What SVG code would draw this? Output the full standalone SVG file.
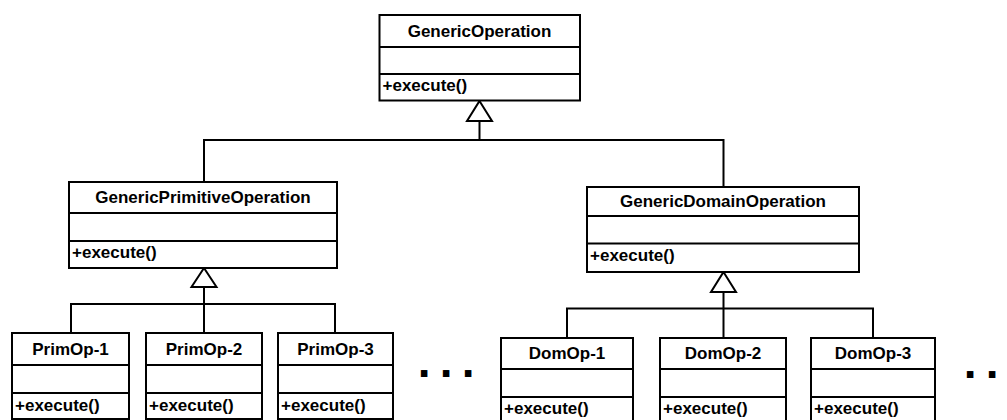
<svg xmlns="http://www.w3.org/2000/svg" width="1007" height="420" viewBox="0 0 1007 420">
<style>
.box{fill:#fff;stroke:#000;stroke-width:2}
.div{stroke:#000;stroke-width:2}
.name{font-family:"Liberation Sans",Arial,sans-serif;font-weight:bold;font-size:17px;text-anchor:middle;fill:#000}
.op{font-family:"Liberation Sans",Arial,sans-serif;font-weight:bold;font-size:17px;fill:#000}
.ln{fill:none;stroke:#000;stroke-width:2}
.tri{fill:#fff;stroke:#000;stroke-width:2;stroke-linejoin:miter}
.dots{font-family:"Liberation Sans",Arial,sans-serif;font-weight:bold;font-size:46px;letter-spacing:9.2px;fill:#000}
</style>
<rect width="1007" height="420" fill="#fff"/>
<g id="connectors">
<polyline class="ln" points="479.5,121 479.5,140"/>
<polyline class="ln" points="204,182 204,140 723.5,140 723.5,187"/>
<polyline class="ln" points="204,287 204,333"/>
<polyline class="ln" points="71,333 71,304 335,304 335,333"/>
<polyline class="ln" points="723.5,292 723.5,338"/>
<polyline class="ln" points="567,338 567,308.5 873,308.5 873,338"/>
<polygon class="tri" points="479.5,101 492,121 467,121"/>
<polygon class="tri" points="204,268 216.5,287 191.5,287"/>
<polygon class="tri" points="723.5,272 736,292 711,292"/>
</g>
<g id="GenericOperation">
<rect class="box" x="379.5" y="15" width="200.5" height="85.5"/>
<line class="div" x1="379.5" y1="47" x2="580" y2="47"/>
<line class="div" x1="379.5" y1="74" x2="580" y2="74"/>
<text class="name" x="479.5" y="36.5">GenericOperation</text>
<text class="op" x="382.5" y="91">+execute()</text>
</g>
<g id="GenericPrimitiveOperation">
<rect class="box" x="69" y="182" width="268" height="86"/>
<line class="div" x1="69" y1="213" x2="337" y2="213"/>
<line class="div" x1="69" y1="241" x2="337" y2="241"/>
<text class="name" x="203" y="202.5">GenericPrimitiveOperation</text>
<text class="op" x="72" y="258">+execute()</text>
</g>
<g id="GenericDomainOperation">
<rect class="box" x="587" y="187" width="272" height="85"/>
<line class="div" x1="587" y1="216" x2="859" y2="216"/>
<line class="div" x1="587" y1="243.5" x2="859" y2="243.5"/>
<text class="name" x="723" y="206.5">GenericDomainOperation</text>
<text class="op" x="590" y="261">+execute()</text>
</g>
<g id="PrimOp-1">
<rect class="box" x="12" y="333" width="117" height="86"/>
<line class="div" x1="12" y1="365" x2="129" y2="365"/>
<line class="div" x1="12" y1="393" x2="129" y2="393"/>
<text class="name" x="70.5" y="354.5">PrimOp-1</text>
<text class="op" x="15" y="411">+execute()</text>
</g>
<g id="PrimOp-2">
<rect class="box" x="146" y="333" width="116" height="86"/>
<line class="div" x1="146" y1="365" x2="262" y2="365"/>
<line class="div" x1="146" y1="393" x2="262" y2="393"/>
<text class="name" x="204" y="354.5">PrimOp-2</text>
<text class="op" x="149" y="411">+execute()</text>
</g>
<g id="PrimOp-3">
<rect class="box" x="278" y="333" width="115" height="86"/>
<line class="div" x1="278" y1="365" x2="393" y2="365"/>
<line class="div" x1="278" y1="393" x2="393" y2="393"/>
<text class="name" x="335.5" y="354.5">PrimOp-3</text>
<text class="op" x="281" y="411">+execute()</text>
</g>
<g id="DomOp-1">
<rect class="box" x="501" y="338" width="132" height="90"/>
<line class="div" x1="501" y1="369" x2="633" y2="369"/>
<line class="div" x1="501" y1="397" x2="633" y2="397"/>
<text class="name" x="567" y="359">DomOp-1</text>
<text class="op" x="504" y="414">+execute()</text>
</g>
<g id="DomOp-2">
<rect class="box" x="660" y="338" width="126" height="90"/>
<line class="div" x1="660" y1="369" x2="786" y2="369"/>
<line class="div" x1="660" y1="397" x2="786" y2="397"/>
<text class="name" x="723" y="359">DomOp-2</text>
<text class="op" x="663" y="414">+execute()</text>
</g>
<g id="DomOp-3">
<rect class="box" x="811" y="338" width="124" height="90"/>
<line class="div" x1="811" y1="369" x2="935" y2="369"/>
<line class="div" x1="811" y1="397" x2="935" y2="397"/>
<text class="name" x="873" y="359">DomOp-3</text>
<text class="op" x="814" y="414">+execute()</text>
</g>
<text class="dots" x="417.7" y="377">...</text>
<text class="dots" x="963.7" y="378">..</text>
</svg>
